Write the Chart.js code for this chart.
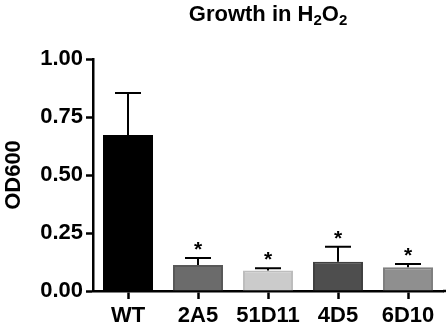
<!DOCTYPE html>
<html>
<head>
<meta charset="utf-8">
<script src="https://cdn.jsdelivr.net/npm/chart.js@4/dist/chart.umd.min.js"></script>
<style>
  html, body { margin: 0; padding: 0; background: #fff; }
  #wrap { width: 446px; height: 326px; position: relative; }
</style>
</head>
<body>
<div id="wrap"><canvas id="c"></canvas></div>
<script>
// strains and mean OD600 with the upper SD
const strains = ['WT', '2A5', '51D11', '4D5', '6D10'];
const od600 = [0.672, 0.112, 0.088, 0.126, 0.102];
const sd = [0.181, 0.030, 0.010, 0.065, 0.014];
const starred = [false, true, true, true, true];
const yTicks = [0, 0.25, 0.5, 0.75, 1.0];

const fills = ['#000000', '#6b6b6b', '#cbcbcb', '#4e4e4e', '#8f8f8f'];
const edges = ['#000000', '#585858', '#bdbdbd', '#404040', '#7f7f7f'];

const FONT = '"Liberation Sans", Arial, Helvetica, sans-serif';

// error bars (upper only) + significance stars
const errorBars = {
  id: 'errorBars',
  afterDatasetsDraw(chart) {
    const ctx = chart.ctx;
    const y = chart.scales.y;
    const meta = chart.getDatasetMeta(0);
    ctx.save();
    ctx.strokeStyle = '#000';
    ctx.lineWidth = 2;
    meta.data.forEach((bar, i) => {
      const x = bar.x;
      const yv = y.getPixelForValue(od600[i]);
      const ye = y.getPixelForValue(od600[i] + sd[i]);
      ctx.beginPath();
      ctx.moveTo(x, yv);
      ctx.lineTo(x, ye);
      ctx.moveTo(x - 13, ye);
      ctx.lineTo(x + 13, ye);
      ctx.stroke();
      if (starred[i]) {
        ctx.fillStyle = '#000';
        ctx.font = 'bold 21px ' + FONT;
        ctx.textAlign = 'center';
        ctx.textBaseline = 'alphabetic';
        ctx.fillText('*', x, ye - 2);
      }
    });
    // x axis line runs a little past the last category
    const a = chart.chartArea;
    ctx.lineWidth = 2.5;
    ctx.beginPath();
    ctx.moveTo(a.right, a.bottom);
    ctx.lineTo(chart.width, a.bottom);
    ctx.stroke();
    ctx.restore();
  }
};

// title with subscripts: Growth in H2O2
const subTitle = {
  id: 'subTitle',
  afterDraw(chart) {
    const ctx = chart.ctx;
    const parts = [['Growth in H', false], ['2', true], ['O', false], ['2', true]];
    const big = 'bold 22px ' + FONT, small = 'bold 15px ' + FONT;
    ctx.save();
    let total = 0;
    parts.forEach(p => { ctx.font = p[1] ? small : big; total += ctx.measureText(p[0]).width; });
    const a = chart.chartArea;
    let x = (a.left + a.right) / 2 - total / 2;
    const base = 21;
    ctx.fillStyle = '#000';
    ctx.textBaseline = 'alphabetic';
    ctx.textAlign = 'left';
    parts.forEach(p => {
      ctx.font = p[1] ? small : big;
      ctx.fillText(p[0], x, p[1] ? base + 4 : base);
      x += ctx.measureText(p[0]).width;
    });
    ctx.restore();
  }
};

new Chart(document.getElementById('c'), {
  type: 'bar',
  data: {
    labels: strains,
    datasets: [{
      data: od600,
      backgroundColor: fills,
      borderColor: edges,
      borderWidth: 2,
      borderSkipped: 'start',
      barPercentage: 50 / 70,
      categoryPercentage: 1
    }]
  },
  options: {
    responsive: true,
    maintainAspectRatio: false,
    animation: false,
    layout: { padding: { top: 59, right: 3, bottom: 0, left: 0 } },
    plugins: { legend: { display: false }, tooltip: { enabled: false }, title: { display: false } },
    scales: {
      x: {
        grid: { display: true, drawOnChartArea: false, offset: false, tickLength: 8, tickWidth: 2.5, tickColor: '#000' },
        border: { display: true, color: '#000', width: 2.5 },
        ticks: { color: '#000', font: { family: FONT, size: 22, weight: 'bold' }, padding: 4, maxRotation: 0 },
        afterFit(s) { s.height = 35; }
      },
      y: {
        min: 0, max: 1,
        afterBuildTicks(s) { s.ticks = yTicks.map(v => ({ value: v })); },
        grid: { display: true, drawOnChartArea: false, tickLength: 7, tickWidth: 2.5, tickColor: '#000' },
        border: { display: true, color: '#000', width: 2.5 },
        ticks: { color: '#000', font: { family: FONT, size: 22, weight: 'bold' }, padding: 3, callback: v => v.toFixed(2) },
        title: { display: true, text: 'OD600', color: '#000', font: { family: FONT, size: 22, weight: 'bold' }, padding: { top: 1, bottom: 0 } },
        afterFit(s) { s.width = 93; }
      }
    }
  },
  plugins: [errorBars, subTitle]
});
</script>
</body>
</html>
